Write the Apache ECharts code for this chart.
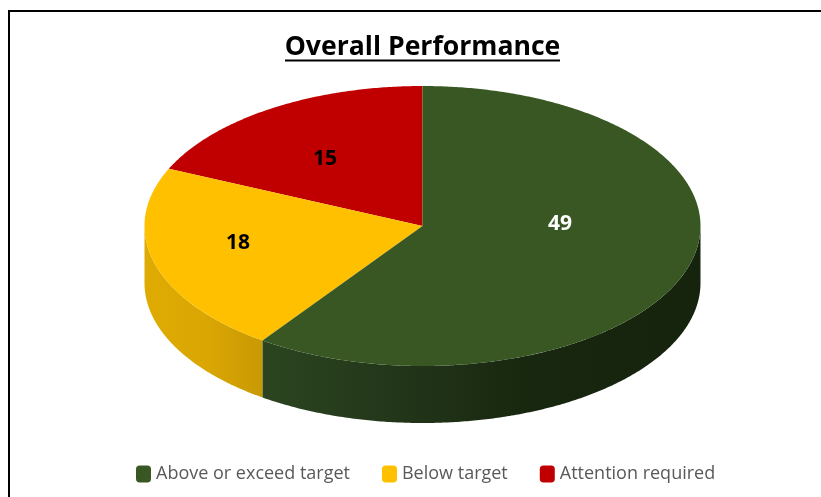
<!DOCTYPE html>
<html>
<head>
<meta charset="utf-8">
<style>html,body{margin:0;padding:0;background:#fff}#c{width:821px;height:497px}</style>
<script src="https://cdn.jsdelivr.net/npm/echarts@6/dist/echarts.min.js"></script>
</head>
<body>
<div id="c"></div>
<script>
const chartTitle = 'Overall Performance';
const categories = ['Above or exceed target', 'Below target', 'Attention required'];
const values = [49, 18, 15];
const topColors = ['#385723', '#FFC000', '#C00000'];
const labelColors = ['#ffffff', '#000000', '#000000'];

// layout of the tilted disc
const CX = 422.5, CY = 226, RX = 278, RY = 140, DEPTH = 57;
const labelAnchors = [[560, 224], [238, 243], [325, 159]];
const sideStops = [
  [[0, '#2c4520'], [0.35, '#213418'], [0.6, '#18270f'], [1, '#16230d']],
  [[0, '#dfab02'], [0.55, '#d9a603'], [1, '#c89903']],
  [[0, '#000'], [1, '#000']]
];

const total = values.reduce((a, b) => a + b, 0);
const pt = (deg, dy) => {
  const r = deg * Math.PI / 180;
  return [CX + RX * Math.sin(r), CY - RY * Math.cos(r) + (dy || 0)];
};
const arc = (from, to, dy) => {
  const n = Math.max(2, Math.ceil(Math.abs(to - from) * 2));
  const out = [];
  for (let i = 0; i <= n; i++) out.push(pt(from + (to - from) * i / n, dy));
  return out;
};
const startOf = i => values.slice(0, i).reduce((a, b) => a + b, 0) / total * 360;

function makeRender(idx) {
  return function (params, api) {
    const v = api.value(0);
    const a0 = startOf(idx), a1 = a0 + v / total * 360;
    const children = [];
    const s0 = Math.max(a0, 90), s1 = Math.min(a1, 270);
    if (s1 > s0) {
      children.push({
        type: 'polygon',
        shape: { points: arc(s0, s1, 0).concat(arc(s1, s0, DEPTH)) },
        style: {
          fill: {
            type: 'linear', x: 0, y: 0, x2: 1, y2: 0,
            colorStops: sideStops[idx].map(s => ({ offset: s[0], color: s[1] }))
          }
        }
      });
    }
    children.push({
      type: 'polygon',
      shape: { points: [[CX, CY]].concat(arc(a0, a1, 0)) },
      style: { fill: topColors[idx] }
    });
    children.push({
      type: 'text',
      x: labelAnchors[idx][0], y: labelAnchors[idx][1],
      style: {
        text: String(v), fill: labelColors[idx],
        font: 'bold 21px "Open Sans", sans-serif',
        align: 'center', verticalAlign: 'middle'
      }
    });
    return { type: 'group', children };
  };
}

const order = [2, 1, 0];
const chart = echarts.init(document.getElementById('c'), null, { renderer: 'canvas' });
chart.setOption({
  animation: false,
  backgroundColor: '#ffffff',
  title: {
    text: chartTitle, left: 417.5, top: 29, textAlign: 'center',
    textStyle: { fontFamily: '"Open Sans", sans-serif', fontSize: 26.6, fontWeight: 'bold', color: '#000000' }
  },
  legend: {
    left: 131, top: 460, itemWidth: 15, itemHeight: 17, itemGap: 32, icon: 'roundRect',
    data: categories,
    textStyle: { fontFamily: '"Open Sans", sans-serif', fontSize: 18, color: '#595959' }
  },
  graphic: [
    { type: 'rect', silent: true, shape: { x: 9, y: 11, width: 900, height: 600 },
      style: { fill: 'none', stroke: '#000000', lineWidth: 2 } },
    { type: 'line', silent: true, shape: { x1: 285, y1: 60.5, x2: 560, y2: 60.5 },
      style: { stroke: '#000000', lineWidth: 2 } }
  ],
  series: order.map(i => ({
    type: 'custom',
    name: categories[i],
    coordinateSystem: 'none',
    itemStyle: { color: topColors[i] },
    data: [[values[i]]],
    renderItem: makeRender(i)
  }))
});
</script>
</body>
</html>
